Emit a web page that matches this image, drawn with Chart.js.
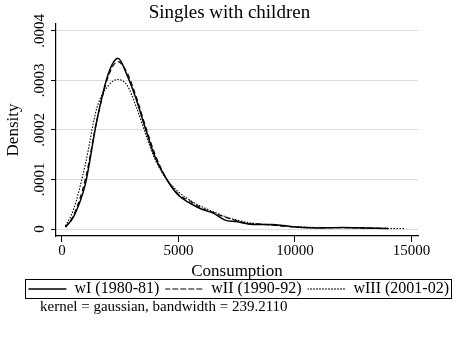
<!DOCTYPE html>
<html lang="en">
<head>
  <meta charset="UTF-8" />
  <title>Singles with children</title>
  <script src="https://cdn.jsdelivr.net/npm/chart.js"></script>
  <style>
    body { margin: 0; background: #fff; }
    #densityChart { display: block; }
  </style>
</head>
<body>
  <canvas id="densityChart" width="457" height="341"></canvas>
  <script>
    // consumption grid (x) and kernel density estimates
    const consumption = [150, 500, 1000, 1500, 2000, 2400, 2800, 3200, 3600, 4000, 4500, 5000, 5500, 6000, 6500, 7000, 7500, 8000, 8500, 9000, 9500, 10000, 11000, 12000, 13000, 14000];
    const consumptionWIII = consumption.concat([14700]);
    const densityWI = [0.000004, 0.000025, 0.00009, 0.00022, 0.000315, 0.000345, 0.00031, 0.00026, 0.0002, 0.000145, 0.0001, 0.000068, 0.000052, 0.00004, 0.000032, 0.000018, 0.000015, 0.00001, 0.000009, 0.000009, 0.000007, 0.000004, 0.000002, 0.000003, 0.000002, 0.000001];
    const densityWII = [0.000004, 0.000028, 0.0001, 0.00022, 0.00031, 0.000338, 0.000315, 0.000265, 0.000205, 0.00015, 0.0001, 0.00007, 0.000056, 0.000042, 0.000033, 0.000024, 0.000017, 0.000011, 0.00001, 0.000008, 0.000006, 0.000004, 0.000003, 0.000003, 0.000002, 0.000001];
    const densityWIII = [0.000006, 0.00004, 0.00013, 0.000245, 0.00029, 0.000302, 0.00029, 0.000245, 0.00019, 0.00014, 0.0001, 0.000075, 0.000058, 0.000045, 0.000035, 0.000025, 0.000018, 0.000013, 0.00001, 0.000008, 0.000006, 0.000005, 0.000003, 0.000003, 0.000002, 0.000001, 0.000001];
    const seriesLabels = ["wI (1980-81)", "wII (1990-92)", "wIII (2001-02)"];
    const xTicks = [0, 5000, 10000, 15000];
    const yTicks = [0, 0.0001, 0.0002, 0.0003, 0.0004];
    const noteText = "kernel = gaussian, bandwidth = 239.2110";

    const serif = "'Liberation Serif', 'DejaVu Serif', serif";

    function toPoints(xs, ys) {
      return xs.map((x, i) => ({ x: x, y: ys[i] }));
    }

    function lineSet(label, xs, ys, dash, width) {
      return {
        label: label,
        data: toPoints(xs, ys),
        showLine: true,
        borderColor: "#000",
        backgroundColor: "rgba(0,0,0,0)",
        borderWidth: width,
        borderDash: dash,
        pointRadius: 0,
        cubicInterpolationMode: "monotone"
      };
    }

    // box around the legend + kernel note under it
    const stataExtras = {
      id: "stataExtras",
      afterDraw(chart) {
        const ctx = chart.ctx;
        const boxes = chart.legend.legendHitBoxes;
        let noteY = 307;
        if (boxes && boxes.length) {
          const left = Math.min(...boxes.map(b => b.left));
          const right = Math.max(...boxes.map(b => b.left + b.width));
          const top = Math.min(...boxes.map(b => b.top));
          const bottom = Math.max(...boxes.map(b => b.top + b.height));
          ctx.save();
          ctx.strokeStyle = "#000";
          ctx.lineWidth = 1;
          ctx.strokeRect(Math.round(left - 3) + 0.5, Math.round(top - 2) + 0.5, Math.round(right - left + 5), Math.round(bottom - top + 3));
          ctx.restore();
          noteY = bottom + 10;
        }
        ctx.save();
        ctx.font = "15px " + serif;
        ctx.fillStyle = "#000";
        ctx.textBaseline = "middle";
        ctx.fillText(noteText, 40, noteY);
        ctx.restore();
      }
    };

    const ctx = document.getElementById("densityChart").getContext("2d");
    new Chart(ctx, {
      type: "scatter",
      data: {
        datasets: [
          lineSet(seriesLabels[0], consumption, densityWI, [], 1.5),
          lineSet(seriesLabels[1], consumption, densityWII, [5, 3], 1.2),
          lineSet(seriesLabels[2], consumptionWIII, densityWIII, [1.5, 1.5], 1.1)
        ]
      },
      options: {
        responsive: false,
        animation: false,
        layout: { padding: { left: 3.8, right: 2, top: 1.2, bottom: 34 } },
        plugins: {
          tooltip: { enabled: false },
          title: {
            display: true,
            text: "Singles with children",
            color: "#000",
            font: { family: serif, size: 19, weight: "normal" },
            padding: { top: 0, bottom: 0 }
          },
          legend: {
            position: "bottom",
            align: "end",
            labels: {
              color: "#000",
              font: { family: serif, size: 16 },
              boxWidth: 38,
              boxHeight: 0,
              padding: 6
            }
          }
        },
        scales: {
          x: {
            type: "linear",
            min: -257,
            max: 15280,
            afterBuildTicks: axis => { axis.ticks = xTicks.map(v => ({ value: v })); },
            ticks: {
              color: "#000",
              font: { family: serif, size: 15 },
              maxRotation: 0,
              padding: 0,
              callback: v => String(v)
            },
            grid: { drawOnChartArea: false, drawTicks: true, tickLength: 6, tickColor: "#000" },
            border: { color: "#000", width: 1.2 },
            title: {
              display: true,
              text: "Consumption",
              color: "#000",
              font: { family: serif, size: 17 },
              padding: { top: 1, bottom: -6.4 }
            }
          },
          y: {
            type: "linear",
            min: -0.0000141,
            max: 0.000414,
            afterBuildTicks: axis => { axis.ticks = yTicks.map(v => ({ value: v })); },
            ticks: {
              color: "#000",
              font: { family: serif, size: 15 },
              minRotation: 90,
              maxRotation: 90,
              crossAlign: "center",
              padding: -5.9,
              callback: v => v === 0 ? "0" : v.toFixed(4).replace("0.", ".")
            },
            grid: { color: "#dcdcdc", lineWidth: 1, tickLength: 5, tickColor: "#000" },
            border: { color: "#000", width: 1.2 },
            title: {
              display: true,
              text: "Density",
              color: "#000",
              font: { family: serif, size: 17 },
              padding: { top: 0, bottom: 20.6 }
            }
          },
          // empty right-hand axis: keeps the plot region narrower than the legend
          yRight: {
            position: "right",
            display: true,
            afterFit: axis => { axis.width = 37; },
            ticks: { display: false },
            grid: { display: false, drawOnChartArea: false },
            border: { display: false }
          }
        }
      },
      plugins: [stataExtras]
    });
  </script>
</body>
</html>
